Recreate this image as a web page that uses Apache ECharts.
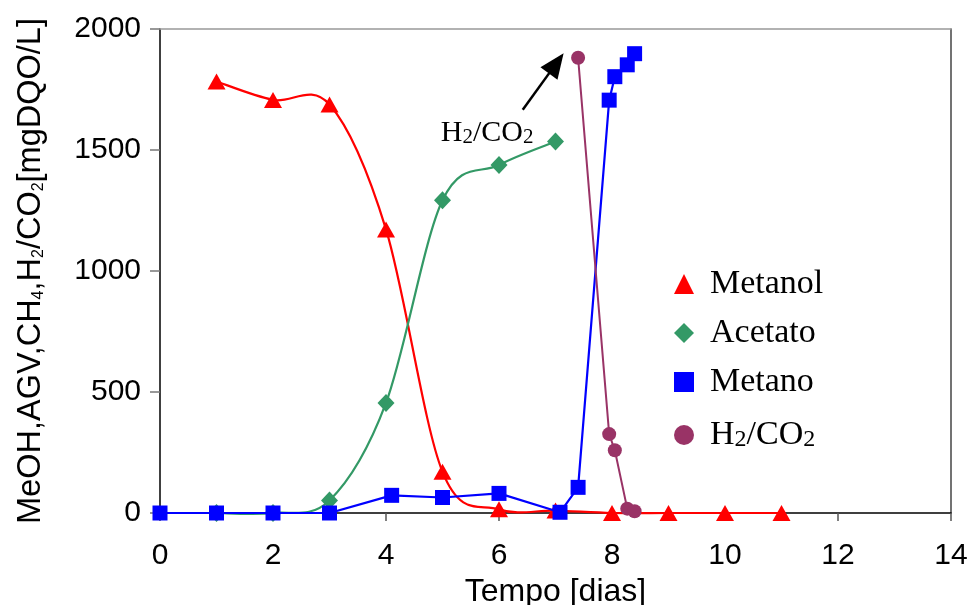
<!DOCTYPE html>
<html><head><meta charset="utf-8">
<script src="https://cdn.jsdelivr.net/npm/echarts@6/dist/echarts.min.js"></script>
<style>html,body{margin:0;padding:0;background:#fff}#c{width:970px;height:605px}</style>
</head><body><div id="c"></div>
<script>
// ---- data ----
const metanolX = [1, 2, 3, 4, 5, 6, 7, 8, 9, 10, 11];
const metanolY = [1783, 1707, 1688, 1172, 170, 15, 10, 0, 0, 0, 0];
const acetatoX = [1, 2, 3, 4, 5, 6, 7];
const acetatoY = [0, 0, 52, 455, 1292, 1438, 1535];
const metanoX = [0, 1, 2, 3, 4.1, 5, 6, 7.08, 7.4, 7.95, 8.05, 8.27, 8.4];
const metanoY = [0, 0, 0, 0, 73, 64, 81, 3, 106, 1706, 1803, 1852, 1898];
const h2co2X = [7.4, 7.95, 8.05, 8.27, 8.4];
const h2co2Y = [1881, 326, 259, 18, 7];
const xTicks = [0, 2, 4, 6, 8, 10, 12, 14];
const yTicks = [0, 500, 1000, 1500, 2000];
const seriesNames = ['Metanol', 'Acetato', 'Metano', 'H2/CO2'];

const RED = '#FF0000', GREEN = '#339966', BLUE = '#0000FF', PURPLE = '#993366';
const SANS = 'Liberation Sans, Arial, sans-serif';
const SERIF = 'Liberation Serif, Times New Roman, serif';

function pairs(xs, ys) { return xs.map((x, i) => [x, ys[i]]); }

// Excel-like smoothed line (Catmull-Rom style bezier through the data points)
function smoothCurve(id, xs, ys, color) {
  return {
    type: 'custom', id: id, silent: true,
    data: pairs(xs, ys),
    encode: { x: 0, y: 1 },
    renderItem: function (params, api) {
      const i = params.dataIndex, n = xs.length;
      if (i >= n - 1) return null;
      const P = k => { const j = Math.max(0, Math.min(n - 1, k)); return api.coord([xs[j], ys[j]]); };
      const p0 = P(i - 1), p1 = P(i), p2 = P(i + 1), p3 = P(i + 2);
      const t = 1 / 6;
      return {
        type: 'bezierCurve',
        shape: {
          x1: p1[0], y1: p1[1],
          cpx1: p1[0] + (p2[0] - p0[0]) * t, cpy1: p1[1] + (p2[1] - p0[1]) * t,
          cpx2: p2[0] - (p3[0] - p1[0]) * t, cpy2: p2[1] - (p3[1] - p1[1]) * t,
          x2: p2[0], y2: p2[1]
        },
        style: { stroke: color, lineWidth: 2.2, fill: 'none' }
      };
    }
  };
}

const subRichSerif = (main, sub, dropPad) => ({
  a: { fontFamily: SERIF, fontSize: main, color: '#000', verticalAlign: 'top', lineHeight: main },
  b: { fontFamily: SERIF, fontSize: sub, color: '#000', verticalAlign: 'bottom', lineHeight: sub, padding: [dropPad, 0, 0, 0] }
});

const plain = v => String(v);

const chart = echarts.init(document.getElementById('c'), null, { renderer: 'canvas' });
chart.setOption({
  animation: false,
  backgroundColor: '#fff',
  grid: { left: 160, right: 19, top: 29, bottom: 92, containLabel: false, outerBoundsMode: 'none' },
  legend: {
    orient: 'vertical', left: 669, top: 262, itemGap: 15,
    itemWidth: 20, itemHeight: 20, selectedMode: false,
    data: [
      { name: seriesNames[0], icon: 'triangle' },
      { name: seriesNames[1], icon: 'diamond' },
      { name: seriesNames[2], icon: 'rect' },
      { name: seriesNames[3], icon: 'circle' }
    ],
    formatter: function (name) {
      if (name === 'H2/CO2') return '{a|H}{b|2}{a|/CO}{b|2}';
      return '{a|' + name + '}';
    },
    textStyle: {
      fontFamily: SERIF, fontSize: 34, color: '#000', padding: [0, 0, 0, 11],
      rich: subRichSerif(34, 24, 14)
    }
  },
  xAxis: [{
    type: 'value', min: xTicks[0], max: xTicks[xTicks.length - 1], interval: xTicks[1] - xTicks[0],
    axisLine: { show: true, onZero: false, lineStyle: { color: '#000', width: 1.5 } },
    axisTick: { show: true, inside: false, length: 8, lineStyle: { color: '#555', width: 1.5 } },
    axisLabel: { fontFamily: SANS, fontSize: 30, color: '#000', margin: 28, formatter: plain },
    splitLine: { show: false },
    name: 'Tempo [dias]', nameLocation: 'middle', nameGap: 57,
    nameTextStyle: { fontFamily: SANS, fontSize: 32, color: '#000' }
  }, {
    type: 'value', position: 'top', min: xTicks[0], max: xTicks[xTicks.length - 1],
    axisLine: { show: true, onZero: false, lineStyle: { color: '#999', width: 1.5 } },
    axisTick: { show: false }, axisLabel: { show: false }, splitLine: { show: false }
  }],
  yAxis: [{
    type: 'value', min: yTicks[0], max: yTicks[yTicks.length - 1], interval: yTicks[1] - yTicks[0],
    axisLine: { show: true, onZero: false, lineStyle: { color: '#000', width: 1.5 } },
    axisTick: { show: true, inside: false, length: 10, lineStyle: { color: '#777', width: 1.5 } },
    axisLabel: { fontFamily: SANS, fontSize: 30, color: '#000', margin: 19, formatter: plain },
    splitLine: { show: false },
    name: '{a|MeOH,AGV,CH}{s|4}{a|,H}{s|2}{a|/CO}{s|2}{a|[mgDQO/L]}',
    nameLocation: 'middle', nameGap: 113, nameRotate: 90,
    nameTextStyle: {
      fontFamily: SANS, fontSize: 32.5, color: '#000',
      rich: {
        a: { fontFamily: SANS, fontSize: 32.5, color: '#000', lineHeight: 32 },
        s: { fontFamily: SANS, fontSize: 16, color: '#000', verticalAlign: 'bottom', lineHeight: 16 }
      }
    }
  }, {
    type: 'value', position: 'right', min: yTicks[0], max: yTicks[yTicks.length - 1],
    axisLine: { show: true, onZero: false, lineStyle: { color: '#444', width: 1.5 } },
    axisTick: { show: false }, axisLabel: { show: false }, splitLine: { show: false }
  }],
  series: [
    smoothCurve('metanolCurve', metanolX, metanolY, RED),
    {
      type: 'scatter', name: seriesNames[0], data: pairs(metanolX, metanolY),
      symbol: 'triangle', symbolSize: [18, 16], itemStyle: { color: RED, opacity: 1 },
      emphasis: { disabled: true }, silent: true
    },
    smoothCurve('acetatoCurve', acetatoX, acetatoY, GREEN),
    {
      type: 'scatter', name: seriesNames[1], data: pairs(acetatoX, acetatoY),
      symbol: 'diamond', symbolSize: [17, 18], itemStyle: { color: GREEN, opacity: 1 },
      emphasis: { disabled: true }, silent: true
    },
    {
      type: 'line', name: seriesNames[2], data: pairs(metanoX, metanoY),
      symbol: 'rect', symbolSize: 15, showAllSymbol: true,
      lineStyle: { color: BLUE, width: 2.2 }, itemStyle: { color: BLUE },
      emphasis: { disabled: true }, silent: true
    },
    {
      type: 'line', name: seriesNames[3], data: pairs(h2co2X, h2co2Y),
      symbol: 'circle', symbolSize: 14, showAllSymbol: true,
      lineStyle: { color: PURPLE, width: 2 }, itemStyle: { color: PURPLE },
      emphasis: { disabled: true }, silent: true,
      markLine: {
        silent: true, animation: false,
        symbol: ['none', 'triangle'], symbolSize: [21, 25],
        lineStyle: { color: '#000', width: 2.5, type: 'solid' },
        itemStyle: { color: '#000' },
        label: { show: false },
        data: [[{ coord: [6.42, 1666] }, { coord: [7.014, 1858] }]]
      },
      markPoint: {
        silent: true, animation: false,
        symbol: 'circle', symbolSize: 1, itemStyle: { color: 'rgba(0,0,0,0)' },
        label: {
          show: true, position: 'inside', formatter: '{a|H}{b|2}{a|/CO}{b|2}',
          rich: subRichSerif(30, 21, 12)
        },
        data: [{ coord: [5.79, 1571] }]
      }
    }
  ]
});
</script>
</body></html>
